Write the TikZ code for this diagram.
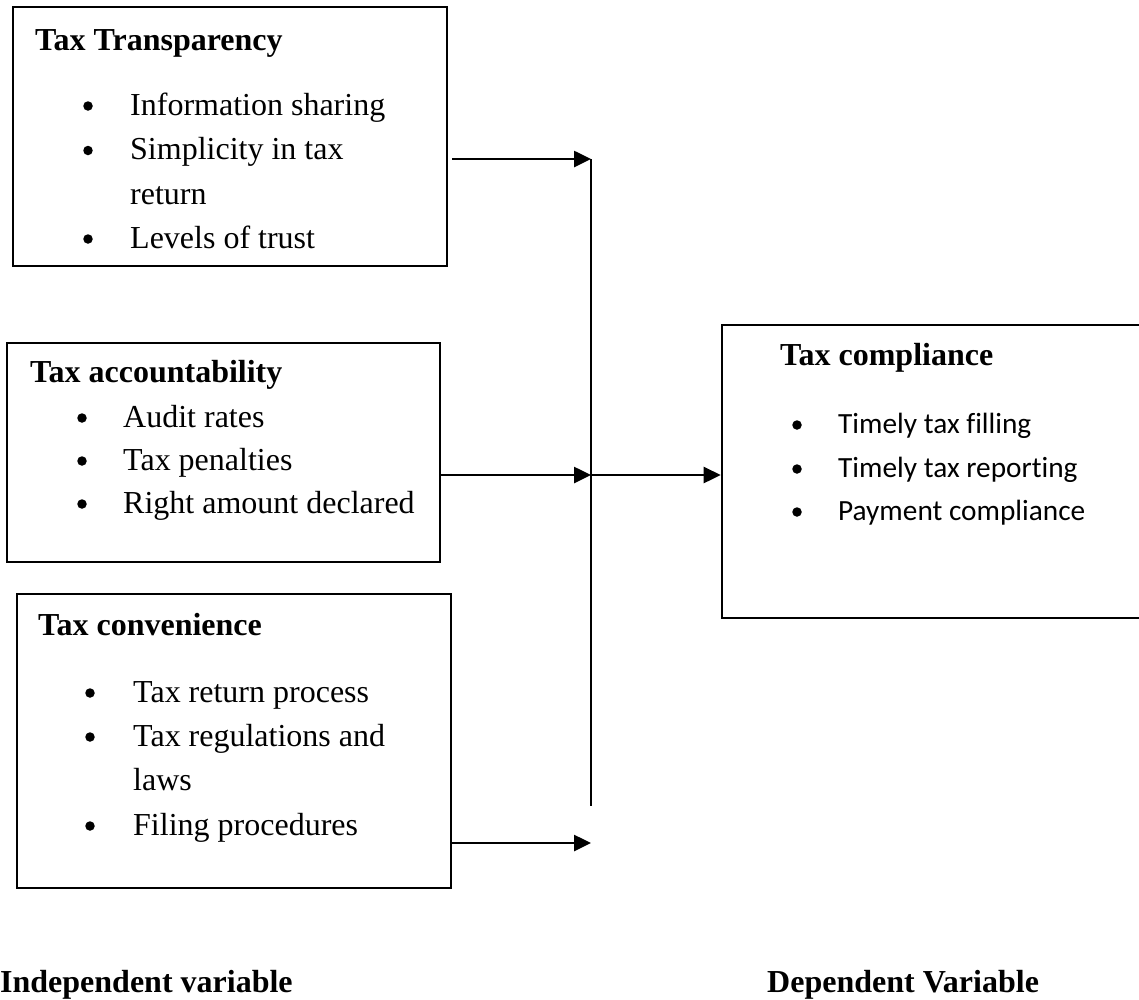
\documentclass[tikz,border=0pt]{standalone}
\usepackage{fontspec}
\setmainfont[Ligatures=NoCommon]{Liberation Serif}
\newfontfamily\calibri[Ligatures=NoCommon]{Carlito}
\usetikzlibrary{arrows.meta}
\begin{document}
\begin{tikzpicture}[x=1pt,y=-1pt,
  box/.style={draw, line width=2.6pt, inner sep=0pt},
  txt/.style={anchor=base west, inner sep=0pt, font=\fontsize{32}{38}\selectfont},
  ttl/.style={anchor=base west, inner sep=0pt, font=\fontsize{32}{38}\selectfont\bfseries},
  itm/.style={anchor=base west, inner sep=0pt, font=\calibri\fontsize{29.3}{35}\selectfont},
  conn/.style={line width=2.6pt, -{Triangle[length=17pt,width=16pt]}},
  bul/.style={circle, fill=black, inner sep=0pt, minimum size=9.5pt}]
\useasboundingbox (0,0) rectangle (1139,999);

% boxes
\node[box, minimum width=434pt, minimum height=259pt] (box1) at (230,136.5) {};
\node[box, minimum width=433pt, minimum height=219pt] (box2) at (223.5,452.5) {};
\node[box, minimum width=434pt, minimum height=294pt] (box3) at (234,741) {};
\node[box, minimum width=420pt, minimum height=293pt] (box4) at (932,471.5) {};

% box 1
\node[ttl] (t1) at (35,50) {Tax Transparency};
\node[bul] (b1a) at (88,106) {};
\node[txt] (t1a) at (130,115) {Information sharing};
\node[bul] (b1b) at (88,150.5) {};
\node[txt] (t1b) at (130,159.5) {Simplicity in tax};
\node[txt] (t1c) at (130,204) {return};
\node[bul] (b1d) at (88,239) {};
\node[txt] (t1d) at (130,248) {Levels of trust};

% box 2
\node[ttl] (t2) at (30,382) {Tax accountability};
\node[bul] (b2a) at (82,418) {};
\node[txt] (t2a) at (123,427) {Audit rates};
\node[bul] (b2b) at (82,461) {};
\node[txt] (t2b) at (123,470) {Tax penalties};
\node[bul] (b2c) at (82,504) {};
\node[txt] (t2c) at (123,513) {Right amount declared};

% box 3
\node[ttl] (t3) at (38,635) {Tax convenience};
\node[bul] (b3a) at (90,693) {};
\node[txt] (t3a) at (133,702) {Tax return process};
\node[bul] (b3b) at (90,737) {};
\node[txt] (t3b) at (133,746) {Tax regulations and};
\node[txt] (t3c) at (133,790) {laws};
\node[bul] (b3d) at (90,826) {};
\node[txt] (t3d) at (133,835) {Filing procedures};

% box 4
\node[ttl] (t4) at (780,365) {Tax compliance};
\node[bul] (b4a) at (797,425) {};
\node[itm] (t4a) at (838,433) {Timely tax filling};
\node[bul] (b4b) at (797,469) {};
\node[itm] (t4b) at (838,477) {Timely tax reporting};
\node[bul] (b4c) at (797,512) {};
\node[itm] (t4c) at (838,520) {Payment compliance};

% labels
\node[ttl] (lind) at (0,992) {Independent variable};
\node[ttl] (ldep) at (767,992) {Dependent Variable};

% connectors
\coordinate (vtop) at (591,159);
\coordinate (vmid) at (591,475);
\coordinate (vbot) at (591,806);
\coordinate (jb) at (591,843);
\draw[line width=2.2pt] (vtop) -- (vbot);
\draw[conn] ([xshift=4pt]box1.east |- vtop) -- (vtop);
\draw[conn] (box2.east |- vmid) -- (vmid);
\draw[conn] (box3.east |- jb) -- (jb);
\draw[conn] (vmid) -- (vmid -| box4.west);
\end{tikzpicture}
\end{document}
